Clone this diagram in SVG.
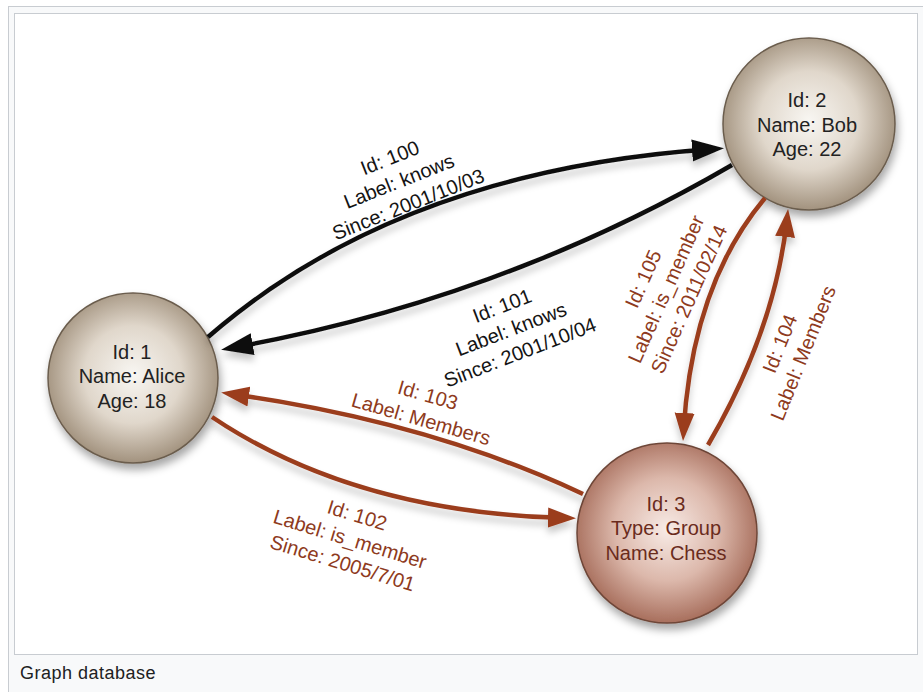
<svg xmlns="http://www.w3.org/2000/svg" width="923" height="692" viewBox="0 0 923 692">
<defs>
<style>
.nt{font-family:"Liberation Sans",Arial,sans-serif;font-size:20px;text-anchor:middle;fill:#222}
.ct{fill:#6a2b1c}
.lb{font-family:"Liberation Sans",Arial,sans-serif;font-size:20px;text-anchor:middle}
.lk{fill:#141414}
.lr{fill:#8e3a20}
.ek{fill:none;stroke:#111;stroke-width:4.5}
.er{fill:none;stroke:#9b3d1f;stroke-width:4.5}
.cap{font-family:"Liberation Sans",Arial,sans-serif;font-size:18px;fill:#202122}
</style>
<radialGradient id="gp" cx="50%" cy="48%" r="52%">
<stop offset="0" stop-color="#f8f6f2"/>
<stop offset="0.55" stop-color="#e0d7cb"/>
<stop offset="1" stop-color="#a2927e"/>
</radialGradient>
<radialGradient id="gg" cx="50%" cy="48%" r="52%">
<stop offset="0" stop-color="#f8ebe6"/>
<stop offset="0.55" stop-color="#dcb8ab"/>
<stop offset="1" stop-color="#a86f5d"/>
</radialGradient>
<filter id="ns" x="-20%" y="-20%" width="140%" height="150%">
<feDropShadow dx="2" dy="6" stdDeviation="4" flood-color="#000" flood-opacity="0.35"/>
</filter>
<filter id="es" x="-10%" y="-20%" width="120%" height="150%">
<feDropShadow dx="0" dy="6" stdDeviation="3.5" flood-color="#000" flood-opacity="0.22"/>
</filter>
<marker id="ak" markerUnits="userSpaceOnUse" markerWidth="32" markerHeight="24" viewBox="0 0 32 24" refX="22" refY="12" orient="auto">
<path d="M0,1 L32,12 L0,23 Z" fill="#111"/>
</marker>
<marker id="ar" markerUnits="userSpaceOnUse" markerWidth="28" markerHeight="22" viewBox="0 0 28 22" refX="18" refY="11" orient="auto">
<path d="M0,1 L28,11 L0,21 Z" fill="#9b3d1f"/>
</marker>
</defs>

<g id="frame">
<rect x="8.5" y="6.5" width="930" height="700" fill="#f8f9fa" stroke="#c8ccd1"/>
<rect x="14.5" y="13.5" width="903" height="641" fill="#ffffff" stroke="#c8ccd1"/>
<text class="cap" x="20" y="679" letter-spacing="0.5">Graph database</text>
</g>

<g id="node-alice" filter="url(#ns)">
<circle cx="133" cy="378" r="85" fill="url(#gp)" stroke="#6b5d4d" stroke-width="1.5"/>
</g>
<g id="node-alice-text">
<text class="nt" x="132" y="359">Id: 1</text>
<text class="nt" x="132" y="383">Name: Alice</text>
<text class="nt" x="132" y="408">Age: 18</text>
</g>

<g id="node-bob" filter="url(#ns)">
<circle cx="809" cy="124" r="86" fill="url(#gp)" stroke="#6b5d4d" stroke-width="1.5"/>
</g>
<g id="node-bob-text">
<text class="nt" x="807" y="107">Id: 2</text>
<text class="nt" x="807" y="132">Name: Bob</text>
<text class="nt" x="807" y="156">Age: 22</text>
</g>

<g id="node-chess" filter="url(#ns)">
<circle cx="667" cy="533" r="90" fill="url(#gg)" stroke="#6e4638" stroke-width="1.5"/>
</g>
<g id="node-chess-text">
<text class="nt ct" x="666" y="511">Id: 3</text>
<text class="nt ct" x="666" y="535">Type: Group</text>
<text class="nt ct" x="666" y="560">Name: Chess</text>
</g>

<g id="connectors">
<g filter="url(#es)">
<path id="e100" class="ek" d="M208,337 Q400,170 714,149" marker-end="url(#ak)"/>
<path id="e101" class="ek" d="M732,165 Q500,300 231,348" marker-end="url(#ak)"/>
<path id="e103" class="er" d="M583,494 Q430,422 231,394" marker-end="url(#ar)"/>
<path id="e102" class="er" d="M212,417 Q355,513 566,518" marker-end="url(#ar)"/>
<path id="e105" class="er" d="M765,198 Q692,285 683.6,431" marker-end="url(#ar)"/>
<path id="e104" class="er" d="M708,445 Q775,330 787,219" marker-end="url(#ar)"/>
</g>
<text class="lb lk" transform="translate(399,181) rotate(-21.6)"><tspan x="0" y="-18">Id: 100</tspan><tspan x="0" y="7">Label: knows</tspan><tspan x="0" y="32">Since: 2001/10/03</tspan></text>
<text class="lb lk" transform="translate(511,329) rotate(-21)"><tspan x="0" y="-18">Id: 101</tspan><tspan x="0" y="7">Label: knows</tspan><tspan x="0" y="32">Since: 2001/10/04</tspan></text>
<text class="lb lr" transform="translate(421,419) rotate(16)"><tspan x="0" y="-18">Id: 103</tspan><tspan x="0" y="7">Label: Members</tspan></text>
<text class="lb lr" transform="translate(350,539) rotate(17)"><tspan x="0" y="-18">Id: 102</tspan><tspan x="0" y="7">Label: is_member</tspan><tspan x="0" y="32">Since: 2005/7/01</tspan></text>
<text class="lb lr" transform="translate(666,289) rotate(-66)"><tspan x="0" y="-18">Id: 105</tspan><tspan x="0" y="7">Label: is_member</tspan><tspan x="0" y="32">Since: 2011/02/14</tspan></text>
<text class="lb lr" transform="translate(803,353) rotate(-68)"><tspan x="0" y="-18">Id: 104</tspan><tspan x="0" y="7">Label: Members</tspan></text>
</g>
</svg>
